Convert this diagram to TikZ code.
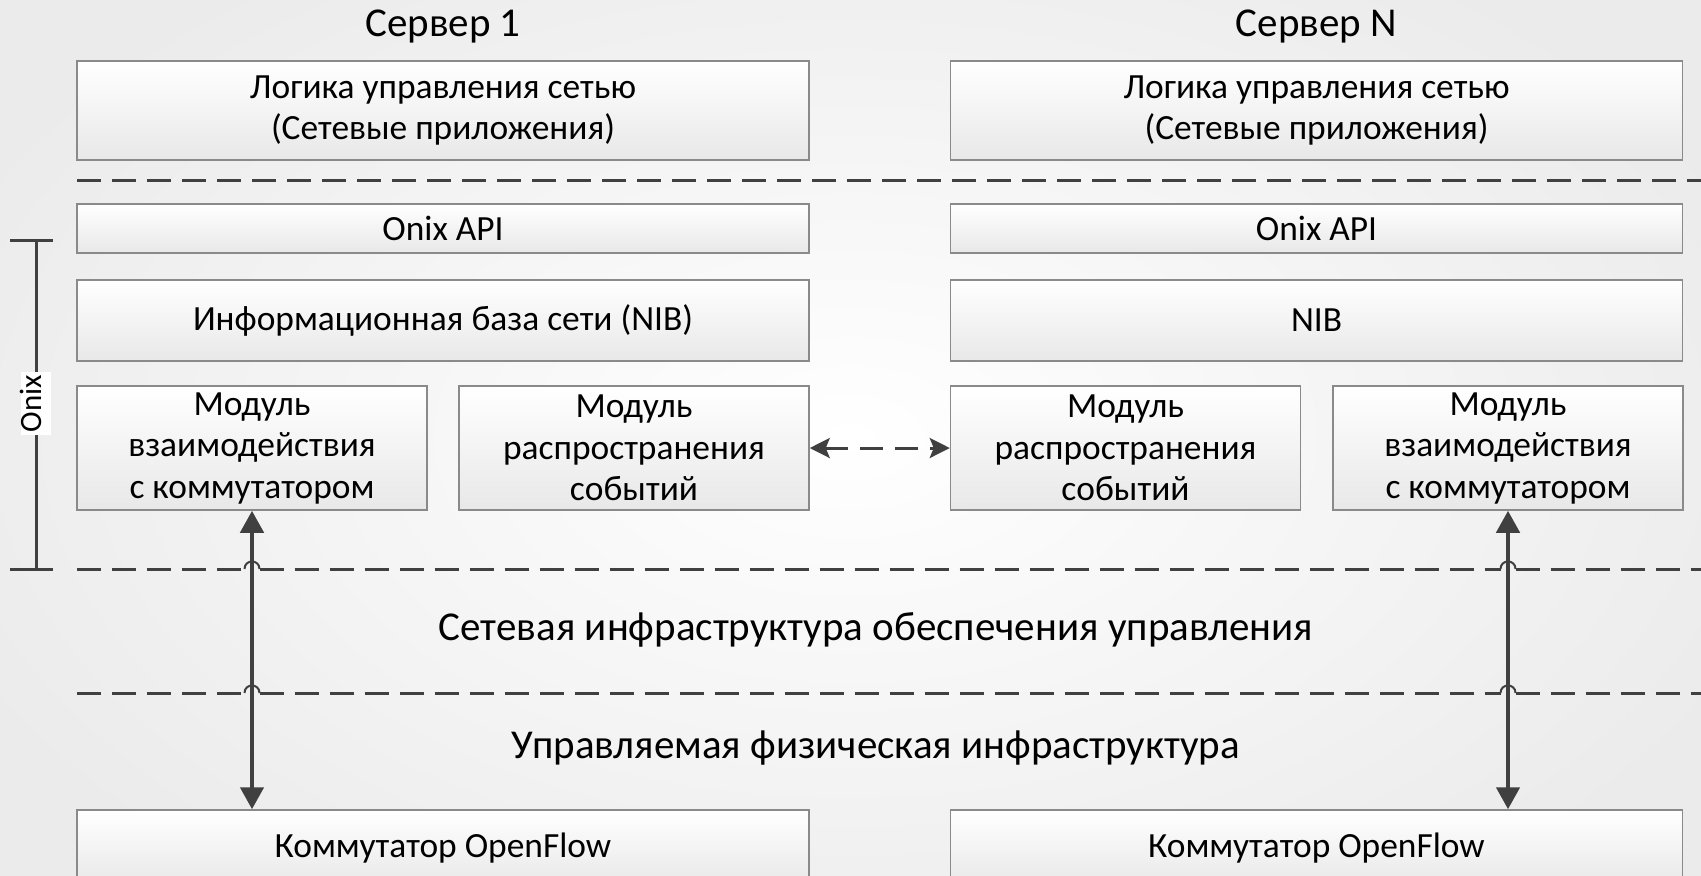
\documentclass[tikz,border=0pt]{standalone}
\usepackage{fontspec}
\setmainfont{Carlito}
\usetikzlibrary{arrows.meta}
\definecolor{rule}{HTML}{404040}
\definecolor{frame}{HTML}{8A8A8A}
\begin{document}
\begin{tikzpicture}[x=0.5pt,y=-0.5pt,
    box/.style={draw=frame,line width=0.75pt,top color=white,bottom color=black!9,inner sep=0pt,align=center,font=\fontsize{17.7}{20.75}\selectfont},
    sep/.style={rule,line width=1.5pt,dash pattern=on 12pt off 5.5pt},
    hop/.style={rule,line width=1pt},
    link/.style={rule,line width=2.25pt,{Triangle[length=11pt,width=11.5pt]}-{Triangle[length=11pt,width=11.5pt]}},
    sync/.style={rule,line width=1.5pt,dash pattern=on 11.5pt off 6pt,{Stealth[length=10pt,width=10pt,inset=2pt]}-{Stealth[length=10pt,width=10pt,inset=2pt]}},
    title/.style={anchor=base,font=\fontsize{20.5}{24}\selectfont},
    layer/.style={anchor=base,font=\fontsize{20.5}{24}\selectfont}]
  \useasboundingbox (0,0) rectangle (1701,875);
  \clip (0,0) rectangle (1701,875);
  \shade[inner color=white,outer color=black!8] (-150,-150) rectangle (1851,1025);
  \foreach \c/\n/\s/\sw/\ev/\nib in {443/1/1/252/634/{Информационная база сети (NIB)},1316.5/2/N/1508/1125.5/NIB}{
    \node[title] (srv\n) at (\c,36) {Сервер \s};
    \node[box,minimum width=366pt,minimum height=49.5pt] (logic\n) at (\c,110.5) {Логика управления сетью\\(Сетевые приложения)};
    \node[box,minimum width=366pt,minimum height=24.5pt] (api\n) at (\c,228.5) {Onix API};
    \node[box,minimum width=366pt,minimum height=40.5pt] (nib\n) at (\c,320.5) {\nib};
    \node[box,minimum width=175pt,minimum height=62pt] (sw\n) at (\sw,448) {Модуль\\взаимодействия\\с коммутатором};
    \node[box,minimum width=175pt,minimum height=62pt] (ev\n) at (\ev,448) {Модуль\\распространения\\событий};
    \node[box,minimum width=366pt,minimum height=38pt] (of\n) at (\c,848) {Коммутатор OpenFlow};
  }
  \draw[sep] (77,180) -- (1701,180);
  \foreach \y in {569,693}{
    \draw[sep] (77,\y) -- (244.5,\y) (259.5,\y) -- (1500.5,\y) (1515.5,\y) -- (1701,\y);
    \foreach \x in {252,1508}\draw[hop] (\x-7.5,\y) .. controls (\x-7.5,\y-10) and (\x+7.5,\y-10) .. (\x+7.5,\y);
  }
  \node[layer] (net) at (876,640) {Сетевая инфраструктура обеспечения управления};
  \node[layer] (phys) at (876,758) {Управляемая физическая инфраструктура};
  \draw[link] (sw1.south) -- (sw1.south |- of1.north);
  \draw[link] (sw2.south) -- (sw2.south |- of2.north);
  \draw[sync] (ev1.east) -- (ev2.west);
  \draw[rule,line width=1.5pt] (10,240) -- (53,240) (36,240) -- (36,569) (10,569) -- (53,569);
  \node[fill=white,rotate=90,inner xsep=1.5pt,inner ysep=2.5pt,text height=0.75em,text depth=0.25em,font=\fontsize{15.5}{18}\selectfont] (onix) at (36,403.5) {Onix};
\end{tikzpicture}
\end{document}
